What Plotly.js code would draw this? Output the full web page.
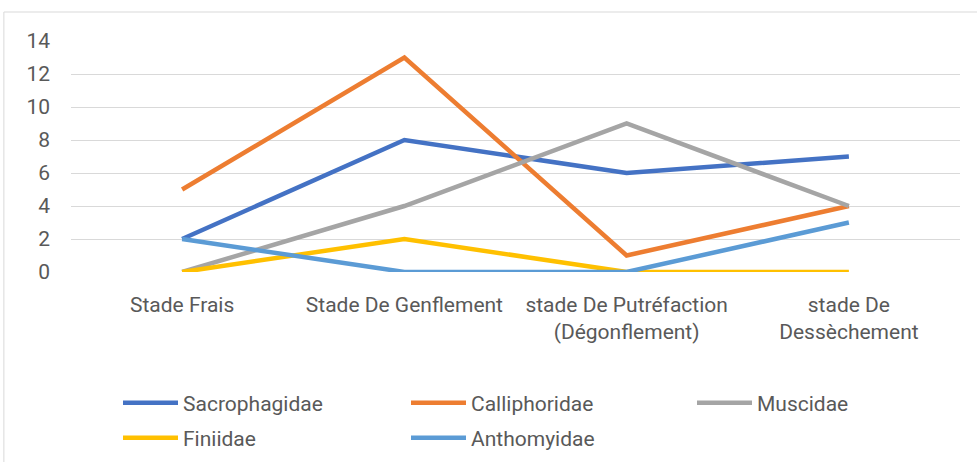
<!DOCTYPE html>
<html><head><meta charset="utf-8">
<script src="https://cdn.plot.ly/plotly-3.0.1.min.js"></script>
<style>body{margin:0;background:#fff}#c{width:977px;height:462px}</style>
</head><body><div id="c"></div>
<script>
const categories = ["Stade Frais", "Stade De Genflement", "stade De Putréfaction<br>(Dégonflement)", "stade De<br>Dessèchement"];
const sacrophagidae = [2, 8, 6, 7];
const calliphoridae = [5, 13, 1, 4];
const muscidae = [0, 4, 9, 4];
const finiidae = [0, 2, 0, 0];
const anthomyidae = [2, 0, 0, 3];
const yTicks = [0, 2, 4, 6, 8, 10, 12, 14];

const FONT = 'Roboto, sans-serif';
function tr(name, y, color, lg) {
  return {type: 'scatter', mode: 'lines', name: name, x: categories, y: y,
    line: {color: color, width: 4.5}, legend: lg, hoverinfo: 'skip'};
}
const data = [
  tr('Sacrophagidae', sacrophagidae, '#4472C4', 'legend'),
  tr('Calliphoridae', calliphoridae, '#ED7D31', 'legend2'),
  tr('Muscidae', muscidae, '#A5A5A5', 'legend3'),
  tr('Finiidae', finiidae, '#FFC000', 'legend4'),
  tr('Anthomyidae', anthomyidae, '#5B9BD5', 'legend5')
];
function leg(x, y) {
  return {orientation: 'h', xref: 'container', yref: 'container', x: x, y: y,
    xanchor: 'left', yanchor: 'middle',
    font: {family: FONT, size: 21, color: '#595959'}, bgcolor: 'rgba(0,0,0,0)', itemwidth: 55};
}
const layout = {
  width: 977, height: 462,
  margin: {l: 71, r: 17, t: 41, b: 190},
  paper_bgcolor: '#fff', plot_bgcolor: '#fff',
  font: {family: FONT, color: '#595959', size: 21},
  showlegend: true,
  xaxis: {type: 'category', showgrid: false, zeroline: false, showline: false, ticks: '',
    ticklabelstandoff: 18, tickfont: {size: 21, color: '#595959'}, range: [-0.5, 3.5], fixedrange: true},
  yaxis: {range: [0, 14], tickvals: yTicks, showgrid: true, gridcolor: '#D9D9D9', gridwidth: 1,
    zeroline: false, showline: false, ticks: '', ticklabelstandoff: 20,
    tickfont: {size: 21, color: '#595959'}, fixedrange: true},
  legend: leg(118 / 977, 1 - 403 / 462),
  legend2: leg(406 / 977, 1 - 403 / 462),
  legend3: leg(692 / 977, 1 - 403 / 462),
  legend4: leg(118 / 977, 1 - 438 / 462),
  legend5: leg(406 / 977, 1 - 438 / 462),
  shapes: [{type: 'rect', xref: 'paper', yref: 'paper', x0: -0.0755, x1: 1.2, y0: -1.3, y1: 1.1255,
    line: {color: '#D9D9D9', width: 1}, layer: 'below'}]
};
Plotly.newPlot('c', data, layout, {displayModeBar: false, staticPlot: true});
</script></body></html>
